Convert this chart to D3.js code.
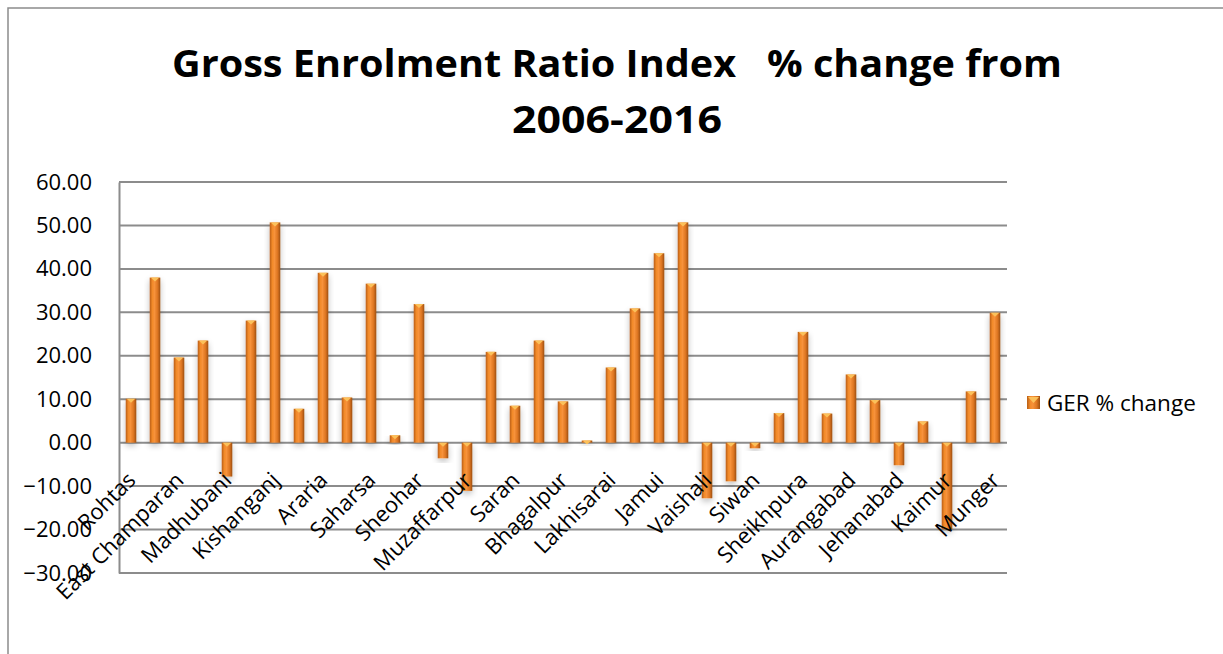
<!DOCTYPE html>
<html>
<head>
<meta charset="utf-8">
<script src="https://cdn.jsdelivr.net/npm/d3@7"></script>
<style>
  body { margin: 0; background: #fff; }
  svg { display: block; font-family: "Open Sans", Lato, sans-serif; }
</style>
</head>
<body>
<script>
// District names (x axis)
var districts = ["Rohtas", "", "East Champaran", "", "Madhubani", "", "Kishanganj", "", "Araria", "",
  "Saharsa", "", "Sheohar", "", "Muzaffarpur", "", "Saran", "", "Bhagalpur", "",
  "Lakhisarai", "", "Jamui", "", "Vaishali", "", "Siwan", "", "Sheikhpura", "",
  "Aurangabad", "", "Jehanabad", "", "Kaimur", "", "Munger"];

// GER % change values
var gerChange = [10.1, 38.0, 19.6, 23.5, -7.8, 28.1, 50.7, 7.8, 39.1, 10.4,
  36.6, 1.7, 31.9, -3.6, -11.1, 20.9, 8.5, 23.5, 9.5, 0.5,
  17.3, 30.9, 43.6, 50.7, -12.8, -8.9, -1.3, 6.8, 25.5, 6.7,
  15.7, 9.8, -5.2, 4.9, -19.9, 11.8, 29.9];

var yTicks = [-30, -20, -10, 0, 10, 20, 30, 40, 50, 60];
var titleLines = ["Gross Enrolment Ratio Index   % change from", "2006-2016"];
var titleWidths = [890, 210];
var seriesName = "GER % change";

var W = 1223, H = 654;
var margin = {top: 182, right: 216, bottom: 81, left: 119},
    width = W - margin.left - margin.right,
    height = H - margin.top - margin.bottom;

var svg = d3.select("body").append("svg")
    .attr("width", W)
    .attr("height", H);

// gradients for the cylinder-looking bars
var defs = svg.append("defs");
var grad = defs.append("linearGradient").attr("id", "barGrad")
    .attr("x1", "0%").attr("x2", "100%").attr("y1", "0%").attr("y2", "0%");
grad.append("stop").attr("offset", "0%").attr("stop-color", "#b85e14");
grad.append("stop").attr("offset", "25%").attr("stop-color", "#f28a2a");
grad.append("stop").attr("offset", "45%").attr("stop-color", "#f7923a");
grad.append("stop").attr("offset", "75%").attr("stop-color", "#dc7520");
grad.append("stop").attr("offset", "100%").attr("stop-color", "#9d4f10");

var shadow = defs.append("filter").attr("id", "shadow")
    .attr("x", "-50%").attr("y", "-20%").attr("width", "200%").attr("height", "150%");
shadow.append("feGaussianBlur").attr("in", "SourceAlpha").attr("stdDeviation", 3);
shadow.append("feOffset").attr("dx", 0).attr("dy", 3).attr("result", "blur");
shadow.append("feComponentTransfer").append("feFuncA").attr("type", "linear").attr("slope", 0.25);
var merge = shadow.append("feMerge");
merge.append("feMergeNode");
merge.append("feMergeNode").attr("in", "SourceGraphic");

// outer frame
svg.append("path")
  .attr("d", "M8," + H + " L8,8 L" + W + ",8")
  .attr("fill", "none")
  .attr("stroke", "#8c8c8c")
  .attr("stroke-width", 1.5);

// title (the original is a bit wider than the font gives, so stretch it)
svg.append("g").selectAll("text")
  .data(titleLines)
  .enter().append("text")
    .attr("x", function(d, i) { return 617 - titleWidths[i] / 2; })
    .attr("y", function(d, i) { return 77 + i * 56; })
    .attr("textLength", function(d, i) { return titleWidths[i]; })
    .attr("lengthAdjust", "spacingAndGlyphs")
    .style("font-weight", "bold")
    .style("font-size", "37px")
    .style("white-space", "pre")
    .text(function(d) { return d; });

var g = svg.append("g")
  .attr("transform", "translate(" + margin.left + "," + margin.top + ")");

var x = d3.scaleBand()
  .domain(d3.range(gerChange.length))
  .range([0, width])
  .paddingInner(0.56)
  .paddingOuter(0.28);

var y = d3.scaleLinear()
  .domain([-30, 60])
  .range([height, 0]);

// gridlines
g.append("g")
  .selectAll("line")
  .data(yTicks)
  .enter().append("line")
    .attr("x1", 0)
    .attr("x2", width)
    .attr("y1", function(d) { return y(d); })
    .attr("y2", function(d) { return y(d); })
    .attr("stroke", "#8c8c8c")
    .attr("stroke-width", 2);

// y axis
var yAxis = g.append("g")
  .call(d3.axisLeft(y).tickValues(yTicks).tickSize(0).tickPadding(27)
    .tickFormat(function(d) { return d3.format(".2f")(d); }));
yAxis.select(".domain").attr("stroke", "#8c8c8c").attr("stroke-width", 2);
yAxis.selectAll("text")
  .attr("fill", "#000")
  .style("font-family", "'Open Sans', Lato, sans-serif")
  .style("font-size", "22px");

// bars
var bars = g.append("g").selectAll("g.bar")
  .data(gerChange)
  .enter().append("g")
  .attr("class", "bar")
  .attr("filter", "url(#shadow)");

bars.append("rect")
  .attr("x", function(d, i) { return x(i); })
  .attr("y", function(d) { return y(Math.max(0, d)); })
  .attr("width", x.bandwidth())
  .attr("height", function(d) { return Math.abs(y(d) - y(0)); })
  .attr("fill", "url(#barGrad)");

// light cap on top of each bar
bars.append("path")
  .attr("d", function(d, i) {
    var x0 = x(i), bw = x.bandwidth(), yt = y(Math.max(0, d));
    return "M" + (x0 + 1) + "," + yt + " L" + (x0 + bw - 1) + "," + yt +
      " L" + (x0 + bw / 2) + "," + (yt + 4) + " Z";
  })
  .attr("fill", "#fbc15a");

// x labels
g.append("g").selectAll("text")
  .data(districts)
  .enter().append("text")
    .attr("text-anchor", "end")
    .attr("transform", function(d, i) {
      return "translate(" + (x(i) + x.bandwidth() / 2 + 6) + "," + (y(0) + 39) + ") rotate(-45)";
    })
    .style("font-size", "22px")
    .attr("fill", "#000")
    .text(function(d) { return d; });

// legend
var legend = svg.append("g").attr("transform", "translate(1027,396)");
legend.append("rect")
  .attr("width", 13).attr("height", 13)
  .attr("fill", "url(#barGrad)");
legend.append("path")
  .attr("d", "M1,1 L12,1 L6.5,7 Z")
  .attr("fill", "#fbc15a");
legend.append("text")
  .attr("x", 20)
  .attr("y", 15)
  .style("font-size", "22.5px")
  .text(seriesName);
</script>
</body>
</html>
